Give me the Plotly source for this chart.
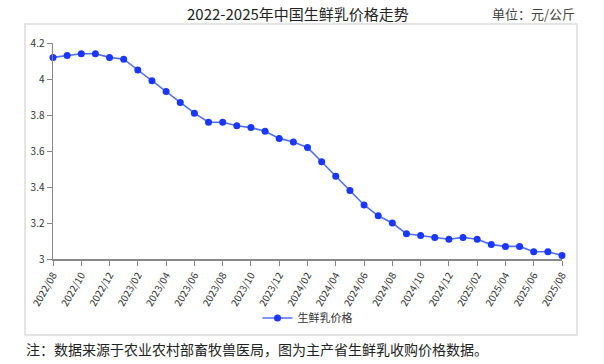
import plotly.graph_objects as go

months = ["2022/08", "2022/09", "2022/10", "2022/11", "2022/12",
          "2023/01", "2023/02", "2023/03", "2023/04", "2023/05", "2023/06",
          "2023/07", "2023/08", "2023/09", "2023/10", "2023/11", "2023/12",
          "2024/01", "2024/02", "2024/03", "2024/04", "2024/05", "2024/06",
          "2024/07", "2024/08", "2024/09", "2024/10", "2024/11", "2024/12",
          "2025/01", "2025/02", "2025/03", "2025/04", "2025/05", "2025/06",
          "2025/07", "2025/08"]
prices = [4.12, 4.13, 4.14, 4.14, 4.12,
          4.11, 4.05, 3.99, 3.93, 3.87, 3.81,
          3.76, 3.76, 3.74, 3.73, 3.71, 3.67,
          3.65, 3.62, 3.54, 3.46, 3.38, 3.30,
          3.24, 3.20, 3.14, 3.13, 3.12, 3.11,
          3.12, 3.11, 3.08, 3.07, 3.07, 3.04,
          3.04, 3.02]
tick_labels = months[::2]
y_ticks = [3, 3.2, 3.4, 3.6, 3.8, 4, 4.2]

FONT = "Noto Sans CJK SC"
W, H = 604, 364
L, R, T, B = 53, 42, 43, 105
pw, ph = W - L - R, H - T - B

def px_x(x):
    return (x - L) / pw

def px_y(y):
    return (H - B - y) / ph

fig = go.Figure()
fig.add_trace(go.Scatter(
    x=months, y=prices, mode="lines+markers", name="生鲜乳价格",
    line=dict(color="rgb(80,110,255)", width=1.6),
    marker=dict(color="rgb(25,55,255)", size=7),
    cliponaxis=False,
))

fig.update_layout(
    width=W, height=H,
    margin=dict(l=L, r=R, t=T, b=B, autoexpand=False),
    paper_bgcolor="white", plot_bgcolor="white",
    font=dict(family=FONT, color="#333"),
    showlegend=True,
    hovermode=False,
    legend=dict(orientation="h", x=0.5, xanchor="center", y=px_y(318), yanchor="middle",
                font=dict(size=11, color="#333", family=FONT), itemwidth=30,
                bgcolor="rgba(0,0,0,0)"),
    xaxis=dict(
        type="category", range=[0, len(months) - 1],
        tickmode="array", tickvals=tick_labels, ticktext=tick_labels,
        tickangle=-60, tickfont=dict(size=10, color="#333", family=FONT),
        showgrid=False, zeroline=False,
        showline=True, linecolor="#888", linewidth=1.5,
        ticks="outside", ticklen=5, tickcolor="#888",
    ),
    yaxis=dict(
        range=[3, 4.2], tickmode="array", tickvals=y_ticks,
        tickfont=dict(size=10, color="#333", family=FONT),
        showgrid=False, zeroline=False,
        showline=True, linecolor="#888", linewidth=1.5,
        ticks="outside", ticklen=5, tickcolor="#888",
    ),
    shapes=[dict(type="rect", xref="paper", yref="paper",
                 x0=px_x(25), x1=px_x(577), y0=px_y(335), y1=px_y(24),
                 line=dict(color="#dcdcdc", width=1.5), fillcolor="rgba(0,0,0,0)",
                 layer="below")],
    annotations=[
        dict(text="2022-2025年中国生鲜乳价格走势", xref="paper", yref="paper",
             x=px_x(298), y=px_y(14), xanchor="center", yanchor="middle",
             showarrow=False, font=dict(size=15, color="#222", family=FONT)),
        dict(text="单位：元/公斤", xref="paper", yref="paper",
             x=px_x(577), y=px_y(14), xanchor="right", yanchor="middle",
             showarrow=False, font=dict(size=13, color="#444", family=FONT)),
        dict(text="注：数据来源于农业农村部畜牧兽医局，图为主产省生鲜乳收购价格数据。",
             xref="paper", yref="paper",
             x=px_x(24), y=px_y(349), xanchor="left", yanchor="middle",
             showarrow=False, font=dict(size=14, color="#222", family=FONT)),
    ],
)

fig.write_html("out.html",
               config={"displayModeBar": False, "staticPlot": True},
               post_script="document.body.style.margin='0';document.body.style.overflow='hidden';")
